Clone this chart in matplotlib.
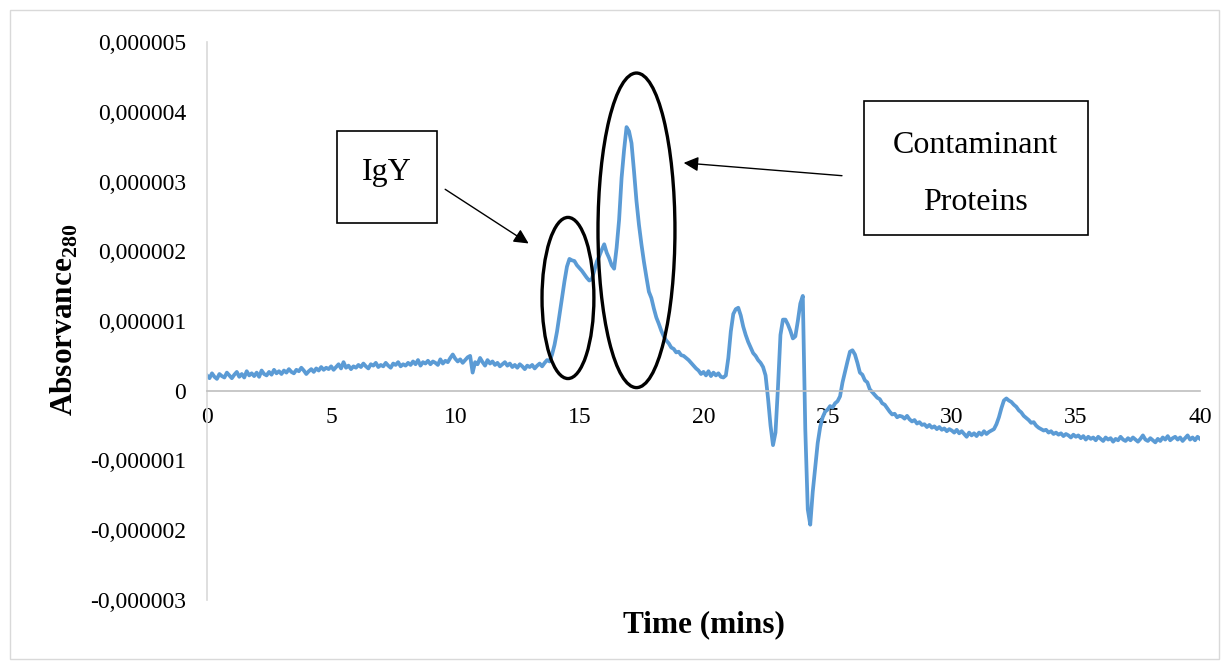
import numpy as np
import matplotlib.pyplot as plt
from matplotlib.patches import Ellipse, Rectangle
from matplotlib.ticker import FuncFormatter, MultipleLocator

plt.rcParams['font.family'] = ['Liberation Serif', 'DejaVu Serif']
plt.rcParams['mathtext.fontset'] = 'custom'
plt.rcParams['mathtext.rm'] = 'Liberation Serif'
plt.rcParams['mathtext.bf'] = 'Liberation Serif:bold'

# absorbance readings (x 1e-6), one row per minute, sampled every 0.1 min
absorbance_e6 = [
    0.22, 0.18, 0.25, 0.20, 0.17, 0.24, 0.21, 0.19, 0.26, 0.22,
    0.18, 0.23, 0.27, 0.20, 0.24, 0.19, 0.28, 0.22, 0.25, 0.21,
    0.26, 0.20, 0.29, 0.24, 0.22, 0.27, 0.23, 0.30, 0.25, 0.28,
    0.24, 0.29, 0.26, 0.31, 0.27, 0.25, 0.30, 0.28, 0.33, 0.29,
    0.24, 0.28, 0.31, 0.27, 0.32, 0.29, 0.34, 0.30, 0.33, 0.31,
    0.35, 0.30, 0.34, 0.38, 0.32, 0.41, 0.33, 0.36, 0.31, 0.35,
    0.33, 0.37, 0.34, 0.39, 0.35, 0.32, 0.38, 0.36, 0.40, 0.34,
    0.37, 0.35, 0.40, 0.36, 0.33, 0.39, 0.37, 0.41, 0.35, 0.38,
    0.36, 0.40, 0.37, 0.42, 0.38, 0.44, 0.36, 0.41, 0.39, 0.43,
    0.38, 0.42, 0.40, 0.37, 0.45, 0.39, 0.43, 0.41, 0.47, 0.52,
    0.46, 0.42, 0.45, 0.40, 0.44, 0.48, 0.50, 0.26, 0.41, 0.38,
    0.47, 0.41, 0.36, 0.44, 0.39, 0.42, 0.37, 0.40, 0.35, 0.38,
    0.41, 0.36, 0.39, 0.34, 0.37, 0.33, 0.38, 0.35, 0.31, 0.36,
    0.34, 0.37, 0.32, 0.36, 0.39, 0.35, 0.40, 0.44, 0.42, 0.52,
    0.66, 0.85, 1.09, 1.33, 1.57, 1.78, 1.89, 1.87, 1.86, 1.80,
    1.76, 1.72, 1.67, 1.62, 1.58, 1.60, 1.72, 1.85, 1.93, 2.02,
    2.10, 1.98, 1.90, 1.80, 1.75, 2.05, 2.45, 3.05, 3.45, 3.78,
    3.72, 3.55, 3.15, 2.72, 2.38, 2.10, 1.85, 1.63, 1.42, 1.33,
    1.18, 1.05, 0.96, 0.86, 0.78, 0.72, 0.68, 0.62, 0.60, 0.55,
    0.56, 0.51, 0.50, 0.47, 0.44, 0.40, 0.36, 0.32, 0.29, 0.24,
    0.27, 0.22, 0.28, 0.21, 0.26, 0.22, 0.25, 0.20, 0.19, 0.22,
    0.47, 0.85, 1.10, 1.17, 1.19, 1.08, 0.92, 0.80, 0.70, 0.62,
    0.54, 0.50, 0.44, 0.40, 0.34, 0.22, -0.11, -0.50, -0.78, -0.60,
    0.05, 0.80, 1.02, 1.02, 0.95, 0.86, 0.75, 0.78, 1.00, 1.25,
    1.36, -0.55, -1.70, -1.92, -1.45, -1.10, -0.75, -0.52, -0.38, -0.30,
    -0.27, -0.22, -0.24, -0.18, -0.15, -0.08, 0.12, 0.27, 0.42, 0.56,
    0.58, 0.52, 0.40, 0.26, 0.23, 0.15, 0.12, 0.02, -0.02, -0.06,
    -0.10, -0.12, -0.18, -0.20, -0.25, -0.30, -0.34, -0.33, -0.38, -0.36,
    -0.37, -0.40, -0.36, -0.41, -0.44, -0.42, -0.47, -0.45, -0.49, -0.48,
    -0.52, -0.49, -0.53, -0.51, -0.55, -0.52, -0.56, -0.54, -0.58, -0.55,
    -0.57, -0.60, -0.56, -0.61, -0.58, -0.62, -0.66, -0.60, -0.64, -0.61,
    -0.65, -0.60, -0.63, -0.58, -0.62, -0.59, -0.57, -0.55, -0.48, -0.38,
    -0.25, -0.14, -0.11, -0.14, -0.16, -0.20, -0.23, -0.28, -0.31, -0.36,
    -0.39, -0.42, -0.46, -0.45, -0.50, -0.53, -0.55, -0.57, -0.56, -0.60,
    -0.58, -0.62, -0.60, -0.63, -0.61, -0.65, -0.62, -0.64, -0.67, -0.63,
    -0.66, -0.64, -0.68, -0.65, -0.70, -0.66, -0.69, -0.67, -0.71, -0.66,
    -0.69, -0.72, -0.67, -0.70, -0.68, -0.73, -0.69, -0.71, -0.66, -0.70,
    -0.72, -0.68, -0.71, -0.67, -0.70, -0.73, -0.69, -0.64, -0.70, -0.72,
    -0.68, -0.71, -0.74, -0.69, -0.72, -0.67, -0.70, -0.65, -0.71, -0.68,
    -0.66, -0.70, -0.67, -0.72, -0.68, -0.64, -0.70, -0.67, -0.71, -0.66,
    -0.69,
]
time_min = np.arange(len(absorbance_e6)) * 0.1
absorbance = np.array(absorbance_e6) * 1e-6

fig = plt.figure(figsize=(12.29, 6.69), dpi=100)
ax = fig.add_axes([207 / 1229, 1 - 600 / 669, 993 / 1229, 558 / 669])

ax.plot(time_min, absorbance, color='#5B9BD5', lw=2.7, solid_joinstyle='round')

ax.set_xlim(0, 40)
ax.set_ylim(-3e-6, 5e-6)
ax.xaxis.set_major_locator(MultipleLocator(5))
ax.yaxis.set_major_locator(MultipleLocator(1e-6))


def fmt_y(v, pos):
    if abs(v) < 1e-12:
        return '0'
    return f'{v:.6f}'.replace('.', ',')


ax.yaxis.set_major_formatter(FuncFormatter(fmt_y))
ax.xaxis.set_major_formatter(FuncFormatter(lambda v, p: f'{v:.0f}'))

for s in ['top', 'right']:
    ax.spines[s].set_visible(False)
ax.spines['bottom'].set_position(('data', 0))
ax.spines['left'].set_color('#D9D9D9')
ax.spines['bottom'].set_color('#BFBFBF')
ax.spines['left'].set_linewidth(1.2)
ax.spines['bottom'].set_linewidth(1.2)
ax.tick_params(axis='both', length=0, labelsize=17)
ax.tick_params(axis='y', pad=15)
ax.tick_params(axis='x', pad=12)

ax.set_xlabel('Time (mins)', fontsize=22.5, fontweight='bold')
ax.xaxis.set_label_coords(0.5, -0.045)
ax.xaxis.label.set_va('center')
ax.set_ylabel(r'Absorvance$_{\mathbf{280}}$', fontsize=22.5, fontweight='bold')
ax.yaxis.set_label_coords(-0.144, 0.502)
ax.yaxis.label.set_va('center')

# annotation ellipses around the peaks
ax.add_patch(Ellipse((14.54, 1.33e-6), 2.09, 2.31e-6, fill=False, ec='black', lw=2.4, zorder=3))
ax.add_patch(Ellipse((17.30, 2.30e-6), 3.10, 4.51e-6, fill=False, ec='black', lw=2.4, zorder=3))

# label boxes
ax.add_patch(Rectangle((5.24, 2.41e-6), 4.02, 1.31e-6, fill=False, ec='black', lw=1.2,
                       clip_on=False))
ax.text(7.25, 3.13e-6, 'IgY', ha='center', va='center', fontsize=23)
ax.add_patch(Rectangle((26.46, 2.23e-6), 9.02, 1.93e-6, fill=False, ec='black', lw=1.2,
                       clip_on=False))
ax.text(30.97, 3.51e-6, 'Contaminant', ha='center', va='center', fontsize=23)
ax.text(30.97, 2.70e-6, 'Proteins', ha='center', va='center', fontsize=23)

# arrows
ax.annotate('', xy=(13.05, 2.09e-6), xytext=(9.50, 2.91e-6),
            arrowprops=dict(arrowstyle='-|>', color='black', lw=1.0, mutation_scale=22))
ax.annotate('', xy=(19.09, 3.27e-6), xytext=(25.69, 3.08e-6),
            arrowprops=dict(arrowstyle='-|>', color='black', lw=1.0, mutation_scale=22))

# chart border
fig.patches.append(Rectangle((10 / 1229, 10 / 669), 1209 / 1229, 649 / 669, fill=False,
                             ec='#D9D9D9', lw=1.0, transform=fig.transFigure))

fig.savefig('out.png', dpi=100)
